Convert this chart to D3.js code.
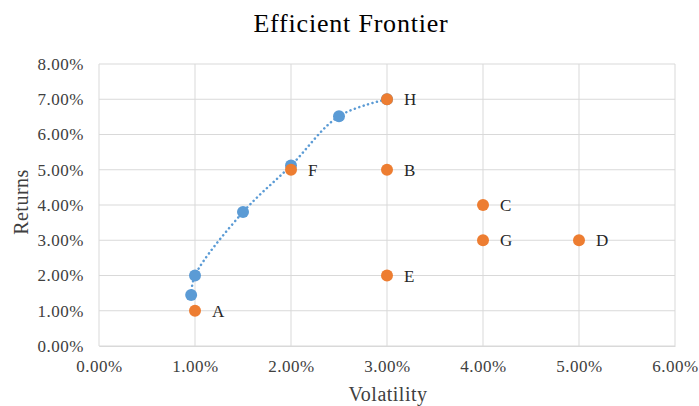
<!DOCTYPE html>
<html><head><meta charset="utf-8">
<script src="https://cdn.jsdelivr.net/npm/d3@7"></script>
<style>body{margin:0;background:#fff}svg{display:block}</style>
</head><body>
<svg id="c" width="699" height="406"></svg>
<script>
const xTicks = [0, 0.01, 0.02, 0.03, 0.04, 0.05, 0.06];
const yTicks = [0, 0.01, 0.02, 0.03, 0.04, 0.05, 0.06, 0.07, 0.08];
const frontierVol = [0.0096, 0.0100, 0.0150, 0.0200, 0.0250, 0.0300];
const frontierRet = [0.0145, 0.0200, 0.0380, 0.0512, 0.0652, 0.0700];
const assetNames = ["A", "B", "C", "D", "E", "F", "G", "H"];
const assetVol = [0.01, 0.03, 0.04, 0.05, 0.03, 0.02, 0.04, 0.03];
const assetRet = [0.01, 0.05, 0.04, 0.03, 0.02, 0.05, 0.03, 0.07];

const svg = d3.select("#c");
const x = d3.scaleLinear().domain([0, 0.06]).range([99, 675]);
const y = d3.scaleLinear().domain([0, 0.08]).range([346, 64]);
const fmt = d3.format(".2%");
const serif = "'Liberation Serif','Times New Roman',serif";

svg.append("text").attr("x", 351).attr("y", 32).attr("text-anchor", "middle")
  .attr("font-family", serif).attr("font-size", 26).attr("letter-spacing", 0.8)
  .attr("fill", "#000").text("Efficient Frontier");

// gridlines
svg.append("g").selectAll("line").data(yTicks).join("line")
  .attr("x1", x(0)).attr("x2", x(0.06)).attr("y1", d => y(d)).attr("y2", d => y(d))
  .attr("stroke", "#d9d9d9").attr("stroke-width", 1);
svg.append("g").selectAll("line").data(xTicks).join("line")
  .attr("y1", y(0)).attr("y2", y(0.08)).attr("x1", d => x(d)).attr("x2", d => x(d))
  .attr("stroke", "#d9d9d9").attr("stroke-width", 1);

// axes
const xa = svg.append("g").attr("transform", `translate(0,${y(0)})`)
  .call(d3.axisBottom(x).tickValues(xTicks).tickFormat(fmt).tickSize(0).tickPadding(14));
const ya = svg.append("g").attr("transform", `translate(${x(0) - 1},0)`)
  .call(d3.axisLeft(y).tickValues(yTicks).tickFormat(fmt).tickSize(0).tickPadding(14));
[xa, ya].forEach(a => {
  a.select(".domain").attr("stroke", "#d9d9d9");
  a.selectAll("text").attr("font-family", serif).attr("font-size", 17)
    .attr("letter-spacing", 0.5).attr("fill", "#404040");
});
ya.select(".domain").attr("stroke", "none");

svg.append("text").attr("x", 388).attr("y", 401).attr("text-anchor", "middle")
  .attr("font-family", serif).attr("font-size", 20).attr("letter-spacing", 0.5)
  .attr("fill", "#404040").text("Volatility");
svg.append("text").attr("transform", "translate(28,202) rotate(-90)").attr("text-anchor", "middle")
  .attr("font-family", serif).attr("font-size", 20).attr("letter-spacing", 0.5)
  .attr("fill", "#404040").text("Returns");

// frontier trend
const fr = frontierVol.map((v, i) => [v, frontierRet[i]]);
svg.append("path").datum(fr)
  .attr("d", d3.line().x(d => x(d[0])).y(d => y(d[1])).curve(d3.curveCatmullRom.alpha(0.5)))
  .attr("fill", "none").attr("stroke", "#5b9bd5").attr("stroke-width", 2.5)
  .attr("stroke-dasharray", "0.1,4.5").attr("stroke-linecap", "round");

svg.append("g").selectAll("circle").data(fr).join("circle")
  .attr("cx", d => x(d[0])).attr("cy", d => y(d[1])).attr("r", 6).attr("fill", "#5b9bd5");

const as = assetNames.map((n, i) => ({n, v: assetVol[i], r: assetRet[i]}));
svg.append("g").selectAll("circle").data(as).join("circle")
  .attr("cx", d => x(d.v)).attr("cy", d => y(d.r)).attr("r", 6).attr("fill", "#ed7d31");
svg.append("g").selectAll("text").data(as).join("text")
  .attr("x", d => x(d.v) + 17).attr("y", d => y(d.r) + 6)
  .attr("font-family", serif).attr("font-size", 17).attr("fill", "#262626").text(d => d.n);
</script>
</body></html>
